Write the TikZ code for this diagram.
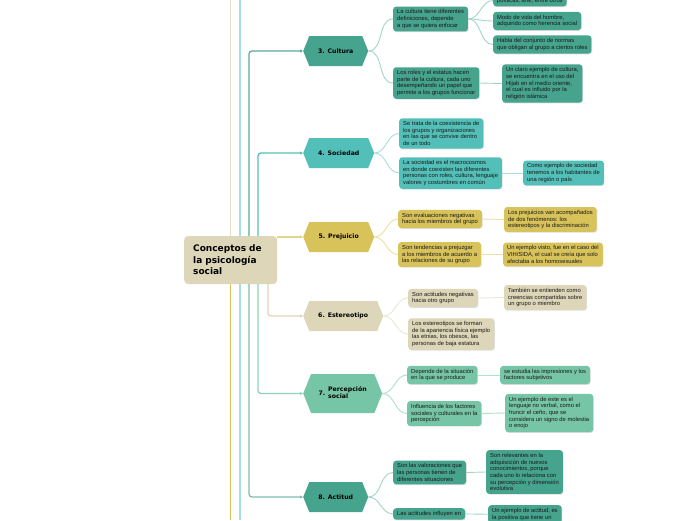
\documentclass[tikz,border=0pt]{standalone}
\usepackage{fontspec}
\setmainfont{Liberation Sans}
\newfontfamily\titlefont{DejaVu Sans}
\usetikzlibrary{positioning, arrows.meta, shapes.symbols, shadows}
\definecolor{cultura}{HTML}{45A38E}
\definecolor{sociedad}{HTML}{53BFB9}
\definecolor{prejuicio}{HTML}{D8C25A}
\definecolor{estereo}{HTML}{DDD6B8}
\definecolor{percep}{HTML}{76C5A6}
\definecolor{twigcul}{HTML}{A3D6CB}
\definecolor{twigsoc}{HTML}{A6E0DC}
\definecolor{twigpre}{HTML}{EDE0A6}
\definecolor{twigest}{HTML}{EBE7D6}
\definecolor{twigper}{HTML}{B0DFCA}
\tikzset{hexa/.style={signal, signal to=east and west, signal pointer angle=136, fill=#1, anchor=west,
            minimum height=30, inner sep=1pt, font=\titlefont\bfseries\fontsize{6.2}{7.2}\selectfont},
         leaf/.style={fill=#1, rounded corners=3pt, align=left, anchor=west, inner xsep=4pt, inner ysep=3pt,
            text=black!90, font=\fontsize{5.8}{6.7}\selectfont,
            drop shadow={opacity=0.25, shadow xshift=0.6pt, shadow yshift=-0.8pt}},
         twig/.style={draw=#1, line width=0.9pt},
         limb/.style={draw=#1, line width=1.3pt, rounded corners=3pt, -{Triangle[length=3pt,width=3pt]}},
        }
\begin{document}
\begin{tikzpicture}[x=1pt,y=-1pt]
        \useasboundingbox (0,0) rectangle (696,520);
        \clip (0,0) rectangle (696,520);
        \fill[white](0,0) rectangle (696,520);

        \draw[line width=1pt, estereo!80](230,0)--(230,260);
        \draw[line width=1pt, prejuicio](230,260)--(230,520);
        \draw[line width=1.5pt, twigsoc](240,0)--(240,520);

        \node[fill=estereo, rounded corners=4pt, minimum width=93, minimum height=48, text width=75, align=left,
              inner sep=0pt, anchor=west, font=\titlefont\bfseries\fontsize{9}{11.5}\selectfont](core)at(184,260)
              {Conceptos de\\la psicología\\social};
        \coordinate(c1)at(249,0);
        \coordinate(c2)at(258,0);
        \coordinate(c3)at(268,0);

        \node[hexa=cultura, minimum width=65](cultura)at(303,51){3. Cultura};
        \node[hexa=sociedad, minimum width=71](sociedad)at(303,153){4. Sociedad};
        \node[hexa=prejuicio, minimum width=71](prejuicio)at(303,237){5. Prejuicio};
        \node[hexa=estereo, minimum width=80](estereotipo)at(303,316){6. Estereotipo};
        \node[hexa=percep, minimum width=79, minimum height=39](percepcion)at(303,393.5)
              {7. \begin{tabular}{@{}l@{}}Percepción\\social\end{tabular}};
        \node[hexa=cultura, minimum width=65](actitud)at(303,497){8. Actitud};

        \draw[limb=cultura!90](core.north -| c1) |- (cultura.west);
        \draw[limb=sociedad](core.north -| c2) |- (sociedad.west);
        \draw[limb=prejuicio!70](core.east |- prejuicio.west) -- (prejuicio.west);
        \draw[limb=estereo](core.south -| c3) |- (estereotipo.west);
        \draw[limb=percep!80](core.south -| c2) |- (percepcion.west);
        \draw[limb=cultura!70](core.south -| c1) |- (actitud.west);

        \node[leaf=cultura](cuA)at(393,19){La cultura tiene diferentes\\definiciones, depende\\a que se quiera enfocar};
        \node[leaf=cultura](cuB)at(393,83){Los roles y el estatus hacen\\parte de la cultura, cada uno\\desempeñando un papel que\\permite a los grupos funcionar};
        \node[leaf=cultura, anchor=south west](cuA0)at(493,6.5){políticas, arte, entre otros};
        \node[leaf=cultura](cuA1)at(493,21){Modo de vida del hombre,\\adquirido como herencia social};
        \node[leaf=cultura](cuA2)at(493,44.5){Habla del conjunto de normas\\que obligan al grupo a ciertos roles};
        \node[leaf=cultura](cuB1)at(502,83.5){Un claro ejemplo de cultura,\\se encuentra en el uso del\\Hijab en el medio oriente,\\el cual es influido por la\\religión islámica};
        \draw[twig=twigcul](cultura.east)to[out=0,in=180](cuA.west);
        \draw[twig=twigcul](cultura.east)to[out=0,in=180](cuB.west);
        \draw[twig=twigcul](cuA.east)to[out=0,in=180](cuA0.west);
        \draw[twig=twigcul](cuA.east)to[out=0,in=180](cuA1.west);
        \draw[twig=twigcul](cuA.east)to[out=0,in=180](cuA2.west);
        \draw[twig=twigcul](cuB.east)--(cuB1.west);

        \node[leaf=sociedad](soC)at(399,133.5){Se trata de la coexistencia de\\los grupos y organizaciones\\en las que se convive dentro\\de un todo};
        \node[leaf=sociedad](soD)at(399,173){La sociedad es el macrocosmos\\en donde coexisten las diferentes\\personas con roles, cultura, lenguaje\\valores y costumbres en común};
        \node[leaf=sociedad](soD1)at(523,173){Como ejemplo de sociedad\\tenemos a los habitantes de\\una región o país};
        \draw[twig=twigsoc](sociedad.east)to[out=0,in=180](soC.west);
        \draw[twig=twigsoc](sociedad.east)to[out=0,in=180](soD.west);
        \draw[twig=twigsoc](soD.east)--(soD1.west);

        \node[leaf=prejuicio](prE)at(398,219){Son evaluaciones negativas\\hacia los miembros del grupo};
        \node[leaf=prejuicio](prE1)at(504,219.5){Los prejuicios van acompañados\\de dos fenómenos: los\\estereotipos y la discriminación};
        \node[leaf=prejuicio](prF)at(398,254.5){Son tendencias a prejuzgar\\a los miembros de acuerdo a\\las relaciones de su grupo};
        \node[leaf=prejuicio](prF1)at(503,254.5){Un ejemplo visto, fue en el caso del\\VIH/SIDA, el cual se creía que solo\\afectaba a los homosexuales};
        \draw[twig=twigpre](prejuicio.east)to[out=0,in=180](prE.west);
        \draw[twig=twigpre](prejuicio.east)to[out=0,in=180](prF.west);
        \draw[twig=twigpre](prE.east)--(prE1.west);
        \draw[twig=twigpre](prF.east)--(prF1.west);

        \node[leaf=estereo](esG)at(408,298){Son actitudes negativas\\hacia otro grupo};
        \node[leaf=estereo](esG1)at(504,297.5){También se entienden como\\creencias compartidas sobre\\un grupo o miembro};
        \node[leaf=estereo](esH)at(408,334){Los estereotipos se forman\\de la apariencia física ejemplo\\las etnias, los obesos, las\\personas de baja estatura};
        \draw[twig=twigest](estereotipo.east)to[out=0,in=180](esG.west);
        \draw[twig=twigest](estereotipo.east)to[out=0,in=180](esH.west);
        \draw[twig=twigest](esG.east)--(esG1.west);

        \node[leaf=percep](peI)at(407,375){Depende de la situación\\en la que se produce};
        \node[leaf=percep](peI1)at(500,375){se estudia las impresiones y los\\factores subjetivos};
        \node[leaf=percep](peJ)at(407,413.5){Influencia de los factores\\sociales y culturales en la\\percepción};
        \node[leaf=percep](peJ1)at(505,413){Un ejemplo de este es el\\lenguaje no verbal, como el\\fruncir el ceño, que se\\considera un signo de molestia\\o enojo};
        \draw[twig=twigper](percepcion.east)to[out=0,in=180](peI.west);
        \draw[twig=twigper](percepcion.east)to[out=0,in=180](peJ.west);
        \draw[twig=twigper](peI.east)--(peI1.west);
        \draw[twig=twigper](peJ.east)--(peJ1.west);

        \node[leaf=cultura](acK)at(393,472.5){Son las valoraciones que\\las personas tienen de\\diferentes situaciones};
        \node[leaf=cultura](acK1)at(486,472){Son relevantes en la\\adquisición de nuevos\\conocimientos, porque\\cada uno lo relaciona con\\su percepción y dimensión\\evolutiva};
        \node[leaf=cultura, anchor=north west](acL)at(393,508){Las actitudes influyen en};
        \node[leaf=cultura, anchor=north west](acL1)at(488,505){Un ejemplo de actitud, es\\la positiva que tiene un};
        \draw[twig=twigcul](actitud.east)to[out=0,in=180](acK.west);
        \draw[twig=twigcul](actitud.east)to[out=0,in=180](acL.west);
        \draw[twig=twigcul](acK.east)--(acK1.west);
        \draw[twig=twigcul](acL.east)--(acL1.west);
    \end{tikzpicture}
\end{document}
